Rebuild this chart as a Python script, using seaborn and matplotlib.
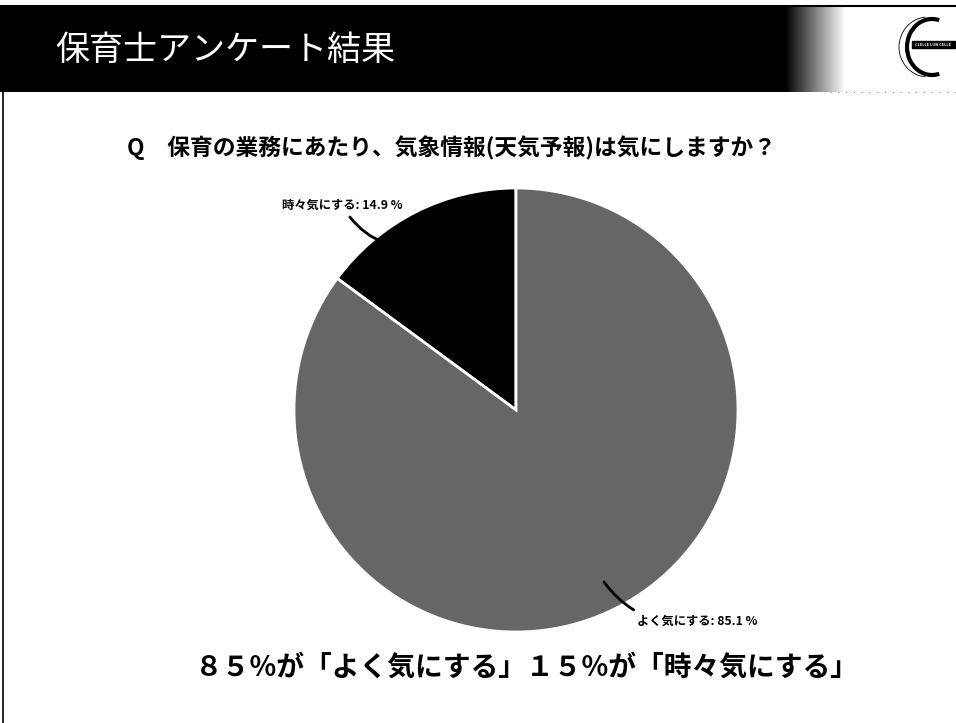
import numpy as np
import matplotlib
matplotlib.use("Agg")
import matplotlib.pyplot as plt
import seaborn as sns
from matplotlib.patches import Rectangle, Arc

sns.set_theme(style="white")
plt.rcParams['font.family'] = ['Noto Sans CJK JP', 'DejaVu Sans']

# Data
categories = ["時々気にする", "よく気にする"]
values = [14.9, 85.1]
slice_colors = ["#000000", "#666666"]

title = "保育士アンケート結果"
question = "Q　保育の業務にあたり、気象情報(天気予報)は気にしますか？"
summary = "８５%が「よく気にする」１５%が「時々気にする」"

W, H = 956, 723
fig = plt.figure(figsize=(W / 100, H / 100), dpi=100)
fig.patch.set_facecolor("white")

# Background / header axes in pixel coords
bg = fig.add_axes([0, 0, 1, 1])
bg.set_xlim(0, W)
bg.set_ylim(H, 0)
bg.axis("off")

# Header band: black then gradient to white
grad = np.ones((1, W))
xs = np.arange(W)
grad[0, xs < 785] = 0.0
mask = (xs >= 785) & (xs < 845)
grad[0, mask] = (xs[mask] - 785) / 60.0
bg.imshow(grad, extent=[0, W, 92, 6], cmap="gray", vmin=0, vmax=1,
          aspect="auto", zorder=0)
bg.plot([0, W], [6, 6], color="black", lw=1.5, zorder=1)
bg.plot([830, W], [92, 92], color="#888888", lw=0.8, ls=(0, (1, 6)), zorder=1)
# left border line
bg.plot([3, 3], [92, H], color="black", lw=1.2, zorder=1)

bg.text(55, 50, title, color="white", fontsize=24.5, va="center", ha="left",
        zorder=2)

# Logo
bg.add_patch(Arc((932, 47), 50, 56, theta1=75, theta2=285, color="black",
                 lw=3, zorder=3))
bg.add_patch(Arc((928, 47), 58, 60, theta1=95, theta2=265, color="black",
                 lw=0.6, zorder=3))
bg.add_patch(Rectangle((912, 41), 43, 7, color="black", zorder=3))
bg.text(933, 44.5, "CLELLE LUN CELLE", color="white", fontsize=2.8,
        ha="center", va="center", fontweight="bold", zorder=4)

# Question
bg.text(127, 148, question, fontsize=16.4, fontweight="bold", va="center",
        ha="left", color="black")

# Summary
bg.text(527, 668, summary, fontsize=20, fontweight="bold", va="center",
        ha="center", color="black")

# Pie
cx, cy, r = 516, 410, 222
ax = fig.add_axes([(cx - r) / W, (H - cy - r) / H, 2 * r / W, 2 * r / H])
wedges, _ = ax.pie(values, colors=slice_colors, startangle=90,
                   counterclock=True,
                   wedgeprops=dict(edgecolor="white", linewidth=2))
ax.set_xlim(-1, 1)
ax.set_ylim(-1, 1)
ax.set_aspect("equal")
ax.axis("off")

def px(x, y):
    return ((x - cx) / r, (cy - y) / r)

ax.annotate(f"{categories[0]}: {values[0]} %", xy=px(430, 245),
            xytext=px(402, 205), ha="right", va="center", fontsize=8.8,
            fontweight="bold", color="black", annotation_clip=False,
            arrowprops=dict(arrowstyle="-", color="black", lw=2,
                            connectionstyle="arc3,rad=0.35",
                            shrinkA=2, shrinkB=0))
ax.annotate(f"{categories[1]}: {values[1]} %", xy=px(604, 582),
            xytext=px(637, 621), ha="left", va="center", fontsize=8.8,
            fontweight="bold", color="black", annotation_clip=False,
            arrowprops=dict(arrowstyle="-", color="black", lw=2,
                            connectionstyle="arc3,rad=-0.3",
                            shrinkA=2, shrinkB=0))

fig.savefig("out.png", dpi=100, facecolor="white")
